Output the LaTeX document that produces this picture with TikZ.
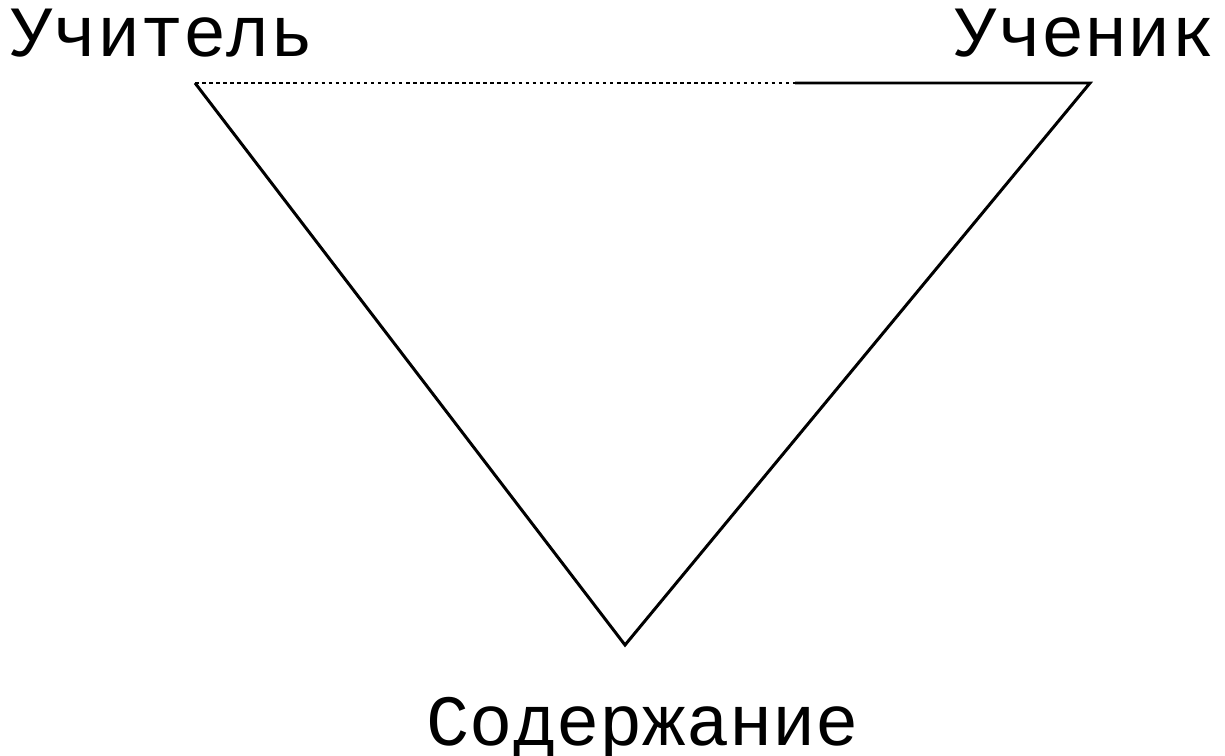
\documentclass[tikz,border=0pt]{standalone}
\usepackage{fontspec}
\newfontfamily\labelfont{Liberation Mono}
\usetikzlibrary{positioning}
\tikzset{
    edge/.style={
        draw=black,
        line width=0.85pt
    },
    dotedge/.style={
        edge,
        dash pattern=on 1pt off 1pt
    },
    corner/.style={
        font=\labelfont\fontsize{20.5}{24}\selectfont,
        inner sep=0pt
    }
}
\begin{document}
\begin{tikzpicture}[x=0.01cm, y=-0.01cm]
    \useasboundingbox (0,0) rectangle (1225,755);
    % corners of the triangle, apex at the bottom
    \coordinate (teach) at (195,83);
    \coordinate (pupil) at (1090,83);
    \coordinate (cont)  at (625,645);
    \coordinate (split) at (795,83);

    \node[corner, anchor=base west] (lteach) at (10,57) {Учитель};
    \node[corner, anchor=base east] (lpupil) at (1215,57) {Ученик};
    \node[corner, anchor=base] (lcont) at (643,745) {Содержание};

    \draw[dotedge] (teach) -- (split);
    \draw[edge] (split) -- (pupil) -- (cont) -- (teach);
\end{tikzpicture}
\end{document}
